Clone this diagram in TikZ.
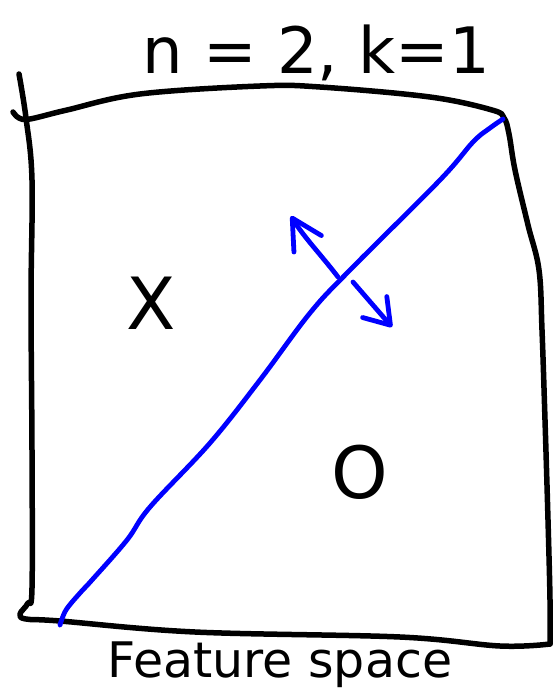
\documentclass[tikz,border=0pt]{standalone}
\usepackage{fontspec}
\setmainfont{DejaVu Sans}
\usepackage{xcolor}
\usepackage{tikz}
\usetikzlibrary{arrows.meta}

\begin{document}
\begin{tikzpicture}[x=1pt, y=-1pt,
  pen/.style={line width=5.5pt, line cap=round, line join=round, black},
  bpen/.style={line width=4.8pt, line cap=round, line join=round, blue},
  barb/.style={-{Straight Barb[length=#1, width=32pt, round]}},
  classlbl/.style={inner sep=0pt, font=\fontsize{72}{72}\selectfont},
  hand/.style={inner sep=0pt, anchor=base, font=\fontsize{64}{64}\selectfont}
]
\useasboundingbox (0,0) rectangle (552,690);
%% Title
\node[hand] (title) at (316,74) {n = 2, k=1};
%% Feature space box (hand drawn)
\draw[pen] plot[smooth, tension=0.6] coordinates {(19,74) (26,118) (32,180) (31,300) (32,450) (32,588)
  (28,603) (20,614) (26,619) (60,621) (195,632) (400,637) (500,646) (550,644)};
\draw[pen] plot[smooth, tension=0.6] coordinates {(13,112) (19,118) (30,119) (67,110) (140,94) (260,86)
  (320,87) (430,97) (492,110) (504,118) (509,134) (515,170) (528,225) (539,270) (542,330) (545,420)
  (548,520) (550,600) (550,644)};
%% Separating line
\draw[bpen] plot[smooth, tension=0.6] coordinates {(60,625) (66,610) (80,593) (92,580) (127,540) (150,507)
  (210,443) (260,380) (310,313) (350,270) (440,180) (473,142) (490,128) (503,119)};
%% Normal direction arrows
\coordinate (upfrom) at (338,277);
\coordinate (upto) at (291,216);
\coordinate (dnfrom) at (353,282);
\coordinate (dnto) at (392,327);
\draw[bpen, barb=30pt] (upfrom) .. controls (322,256) and (303,236) .. (upto);
\draw[bpen, barb=24pt] (dnfrom) -- (dnto);
%% Class labels
\node[classlbl] (ptx) at (151,303) {X};
\node[classlbl] (pto) at (360,472) {O};
%% Caption
\node[inner sep=0pt, anchor=base, font=\fontsize{49}{49}\selectfont] (caption) at (280,677) {Feature space};
\end{tikzpicture}
\end{document}
